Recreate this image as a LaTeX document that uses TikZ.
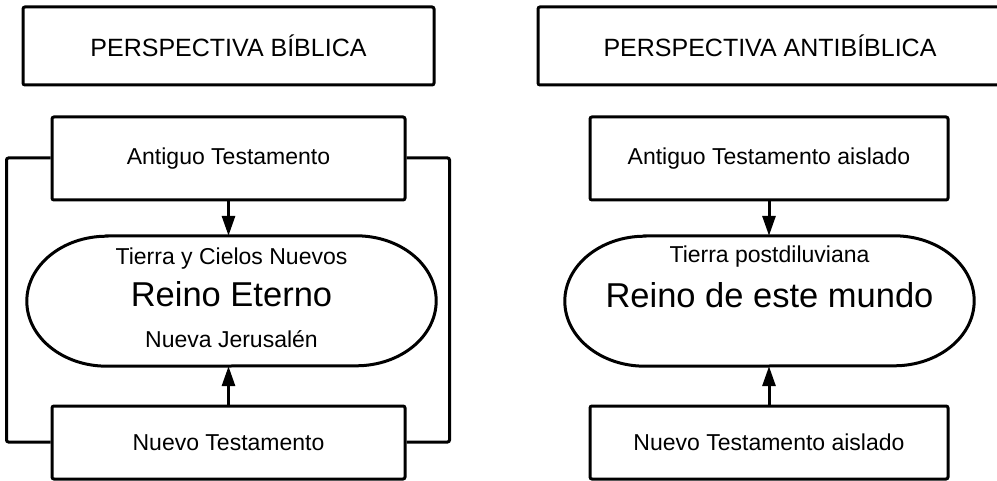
\documentclass[tikz,border=0pt]{standalone}
\usepackage{fontspec}
\setmainfont{Liberation Sans}
\usetikzlibrary{arrows.meta}
\begin{document}
\begin{tikzpicture}[x=1pt,y=-1pt,
  box/.style={draw,line width=3pt,rounded corners=2pt,fill=white,font=\fontsize{23}{27}\selectfont,inner sep=0pt},
  hdr/.style={box,font=\fontsize{25}{29}\selectfont},
  stad/.style={minimum width=409pt,minimum height=130pt,inner sep=0pt},
  stadline/.style={line width=3pt},
  small/.style={font=\fontsize{23}{27}\selectfont,anchor=base,inner sep=0pt},
  big/.style={font=\fontsize{34.5}{40}\selectfont,anchor=base,inner sep=0pt},
  arr/.style={line width=3pt,-{Triangle[length=20pt,width=13pt]}},
  conn/.style={line width=3pt,rounded corners=2pt}]
\useasboundingbox (0,0) rectangle (997,481);
% headers
\node[hdr,minimum width=411pt,minimum height=78pt] (hL) at (228.5,46) {PERSPECTIVA BÍBLICA};
\node[hdr,minimum width=464pt,minimum height=78pt] (hR) at (770,46) {PERSPECTIVA ANTIBÍBLICA};
% left column
\node[box,minimum width=353pt,minimum height=83pt] (aL) at (228.5,158.5) {Antiguo Testamento};
\node[stad] (sL) at (231.5,301) {};
\draw[stadline] ([xshift=80pt]sL.north west) -- ([xshift=-80pt]sL.north east)
  arc[start angle=-90,end angle=90,x radius=80,y radius=65]
  -- ([xshift=80pt]sL.south west)
  arc[start angle=90,end angle=270,x radius=80,y radius=65] -- cycle;
\node[box,minimum width=353pt,minimum height=73pt] (nL) at (228.5,442.5) {Nuevo Testamento};
\node[small] (tL1) at (231.5,265) {Tierra y Cielos Nuevos};
\node[big] (tL2) at (231.5,307) {Reino Eterno};
\node[small] (tL3) at (231.5,348) {Nueva Jerusalén};
% right column
\node[box,minimum width=358pt,minimum height=83pt] (aR) at (769,158.5) {Antiguo Testamento aislado};
\node[stad] (sR) at (769.5,301) {};
\draw[stadline] ([xshift=80pt]sR.north west) -- ([xshift=-80pt]sR.north east)
  arc[start angle=-90,end angle=90,x radius=80,y radius=65]
  -- ([xshift=80pt]sR.south west)
  arc[start angle=90,end angle=270,x radius=80,y radius=65] -- cycle;
\node[box,minimum width=358pt,minimum height=73pt] (nR) at (769,442.5) {Nuevo Testamento aislado};
\node[small] (tR1) at (769.5,263) {Tierra postdiluviana};
\node[big] (tR2) at (769.5,308) {Reino de este mundo};
% arrows
\draw[arr] (aL.south) -- (aL.south |- sL.north);
\draw[arr] (nL.north) -- (nL.north |- sL.south);
\draw[arr] (aR.south) -- (aR.south |- sR.north);
\draw[arr] (nR.north) -- (nR.north |- sR.south);
% outer connectors
\draw[conn] ([yshift=0.5pt]aL.west) -- ++(-44,0) |- ([yshift=0.5pt]nL.west);
\draw[conn] ([yshift=0.5pt]aL.east) -- ++(43,0) |- ([yshift=0.5pt]nL.east);
\end{tikzpicture}
\end{document}
